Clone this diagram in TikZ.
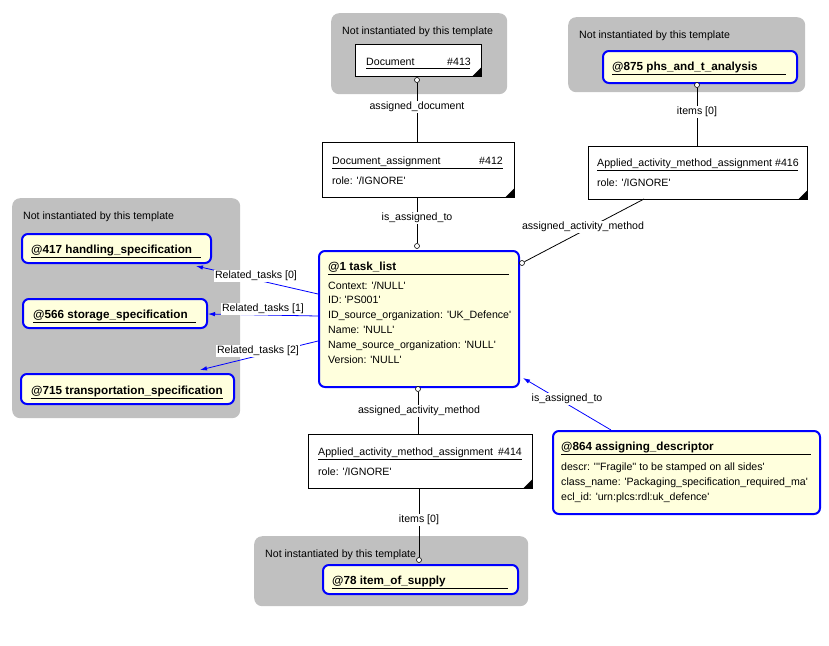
\documentclass[tikz,border=0pt]{standalone}
\usepackage{fontspec}
\setmainfont{Liberation Sans}[Ligatures=TeXOff]
\usetikzlibrary{arrows.meta}
\definecolor{grp}{RGB}{192,192,192}
\definecolor{inst}{RGB}{255,255,221}
\definecolor{lnk}{RGB}{0,0,255}
\begin{document}
\begin{tikzpicture}[x=1pt,y=-1pt,
  grpbox/.style={fill=grp,rounded corners=8pt,anchor=north west,inner sep=0pt},
  entbox/.style={draw=black,fill=white,line width=0.8pt,anchor=north west,inner sep=0pt},
  instbox/.style={draw=lnk,fill=inst,line width=2pt,rounded corners=6pt,anchor=north west,inner sep=0pt},
  txt/.style={anchor=base west,inner sep=0pt,font=\fontsize{10.6}{12}\selectfont},
  ttl/.style={anchor=base west,inner sep=0pt,font=\fontsize{11.7}{13}\selectfont\bfseries},
  lbl/.style={fill=white,inner sep=1pt,font=\fontsize{10.6}{12}\selectfont},
  joint/.style={circle,draw=black,fill=white,inner sep=0pt,minimum size=5pt,line width=0.6pt},
  conn/.style={draw=black,line width=0.8pt},
  rel/.style={draw=lnk,line width=0.8pt,-{Latex[length=7pt,width=4.5pt]}}]
\useasboundingbox (0,0) rectangle (829,645);
% groups
\node[grpbox,minimum width=176,minimum height=81] (g1) at (331,13) {};
\node[grpbox,minimum width=237,minimum height=75] (g2) at (568,17) {};
\node[grpbox,minimum width=228,minimum height=220] (g3) at (12,198) {};
\node[grpbox,minimum width=274,minimum height=70] (g4) at (254,536) {};
\node[txt] at (342,34) {Not instantiated by this template};
\node[txt] at (579,38) {Not instantiated by this template};
\node[txt] at (23,219) {Not instantiated by this template};
\node[txt] at (265,557) {Not instantiated by this template};
% plain entities
\node[entbox,minimum width=126,minimum height=32] (doc) at (355,44) {};
\node[entbox,minimum width=192,minimum height=55] (docasg) at (322,142) {};
\node[entbox,minimum width=219,minimum height=53] (app416) at (588,146) {};
\node[entbox,minimum width=224,minimum height=54] (app414) at (308,434) {};
\foreach \b in {doc,docasg,app416,app414}
  \fill (\b.south east) -- ++(-10,0) -- ++(10,-10) -- cycle;
% instances
\node[instbox,minimum width=194,minimum height=32] (phs) at (602,50) {};
\node[instbox,minimum width=200,minimum height=136] (task) at (318,250) {};
\node[instbox,minimum width=189,minimum height=29] (s417) at (21,233) {};
\node[instbox,minimum width=184,minimum height=29] (s566) at (22,298) {};
\node[instbox,minimum width=213,minimum height=30] (s715) at (20,373) {};
\node[instbox,minimum width=267,minimum height=83] (d864) at (552,430) {};
\node[instbox,minimum width=195,minimum height=29] (s78) at (322,564) {};
% texts
\node[txt] at (366,65) {Document};
\node[txt,anchor=base east] at (471,65) {\#413};
\draw[line width=0.8pt] (366,68) -- (470,68);
\node[txt] at (332,164) {Document\_assignment};
\node[txt,anchor=base east] at (503,164) {\#412};
\draw[line width=0.8pt] (332,168) -- (503,168);
\node[txt] at (332,184) {role: '/IGNORE'};
\node[txt] at (597,166) {Applied\_activity\_method\_assignment \#416};
\draw[line width=0.8pt] (597,170) -- (798,170);
\node[txt] at (597,186) {role: '/IGNORE'};
\node[txt] at (318,455) {Applied\_activity\_method\_assignment};
\node[txt,anchor=base east] at (522,455) {\#414};
\draw[line width=0.8pt] (318,459) -- (522,459);
\node[txt] at (318,475) {role: '/IGNORE'};
\node[ttl] at (612,70) {@875 phs\_and\_t\_analysis};
\draw[line width=0.8pt] (612,74) -- (786,74);
\node[ttl] at (31,253) {@417 handling\_specification};
\draw[line width=0.8pt] (31,257) -- (201,257);
\node[ttl] at (33,318) {@566 storage\_specification};
\draw[line width=0.8pt] (33,322) -- (196,322);
\node[ttl] at (31,394) {@715 transportation\_specification};
\draw[line width=0.8pt] (31,398) -- (223,398);
\node[ttl] at (332,584) {@78 item\_of\_supply};
\draw[line width=0.8pt] (332,588) -- (508,588);
\node[ttl] at (328,270) {@1 task\_list};
\draw[line width=0.8pt] (328,274) -- (509,274);
\foreach \t [count=\i from 0] in {Context: '/NULL',ID: 'PS001',ID\_source\_organization: 'UK\_Defence',Name: 'NULL',Name\_source\_organization: 'NULL',Version: 'NULL'}
  \node[txt] at (328,289+14.8*\i) {\t};
\node[ttl] at (561,450) {@864 assigning\_descriptor};
\draw[line width=0.8pt] (561,454) -- (811,454);
\node[txt] at (561,470) {descr: '''Fragile'' to be stamped on all sides'};
\node[txt] at (561,485) {class\_name: 'Packaging\_specification\_required\_ma'};
\node[txt] at (561,500) {ecl\_id: 'urn:plcs:rdl:uk\_defence'};
% joints
\node[joint] (j1) at (417,80) {};
\node[joint] (j2) at (417,246) {};
\node[joint] (j3) at (697,85) {};
\node[joint] (j4) at (522,263) {};
\node[joint] (j5) at (418,389) {};
\node[joint] (j6) at (419,560) {};
\coordinate (a416) at (644,199);
% connectors
\draw[conn] (j1) -- (j1 |- docasg.north);
\draw[conn] (j2) -- (j2 |- docasg.south);
\draw[conn] (j3) -- (j3 |- app416.north);
\draw[conn] (j4) -- (a416);
\draw[conn] (j5) -- (j5 |- app414.north);
\draw[conn] (j6) -- (j6 |- app414.south);
\coordinate (t0) at (318,294);
\coordinate (t1) at (318,316);
\coordinate (t2) at (318,341);
\coordinate (h0) at (196,266);
\coordinate (h1) at (208,314);
\coordinate (h2) at (200,370);
\coordinate (d0) at (611,430);
\coordinate (h3) at (523,378);
\draw[rel] (t0) -- (h0);
\draw[rel] (t1) -- (h1);
\draw[rel] (t2) -- (h2);
\draw[rel] (d0) -- (h3);
% connector labels
\node[lbl] at (417,107) {assigned\_document};
\node[lbl] at (417,218) {is\_assigned\_to};
\node[lbl] at (697,112) {items [0]};
\node[lbl] at (583,227) {assigned\_activity\_method};
\node[lbl] at (419,411) {assigned\_activity\_method};
\node[lbl] at (419,520) {items [0]};
\node[lbl] at (256,276) {Related\_tasks [0]};
\node[lbl] at (263,309) {Related\_tasks [1]};
\node[lbl] at (258,351) {Related\_tasks [2]};
\node[lbl] at (567,399) {is\_assigned\_to};
\end{tikzpicture}
\end{document}
